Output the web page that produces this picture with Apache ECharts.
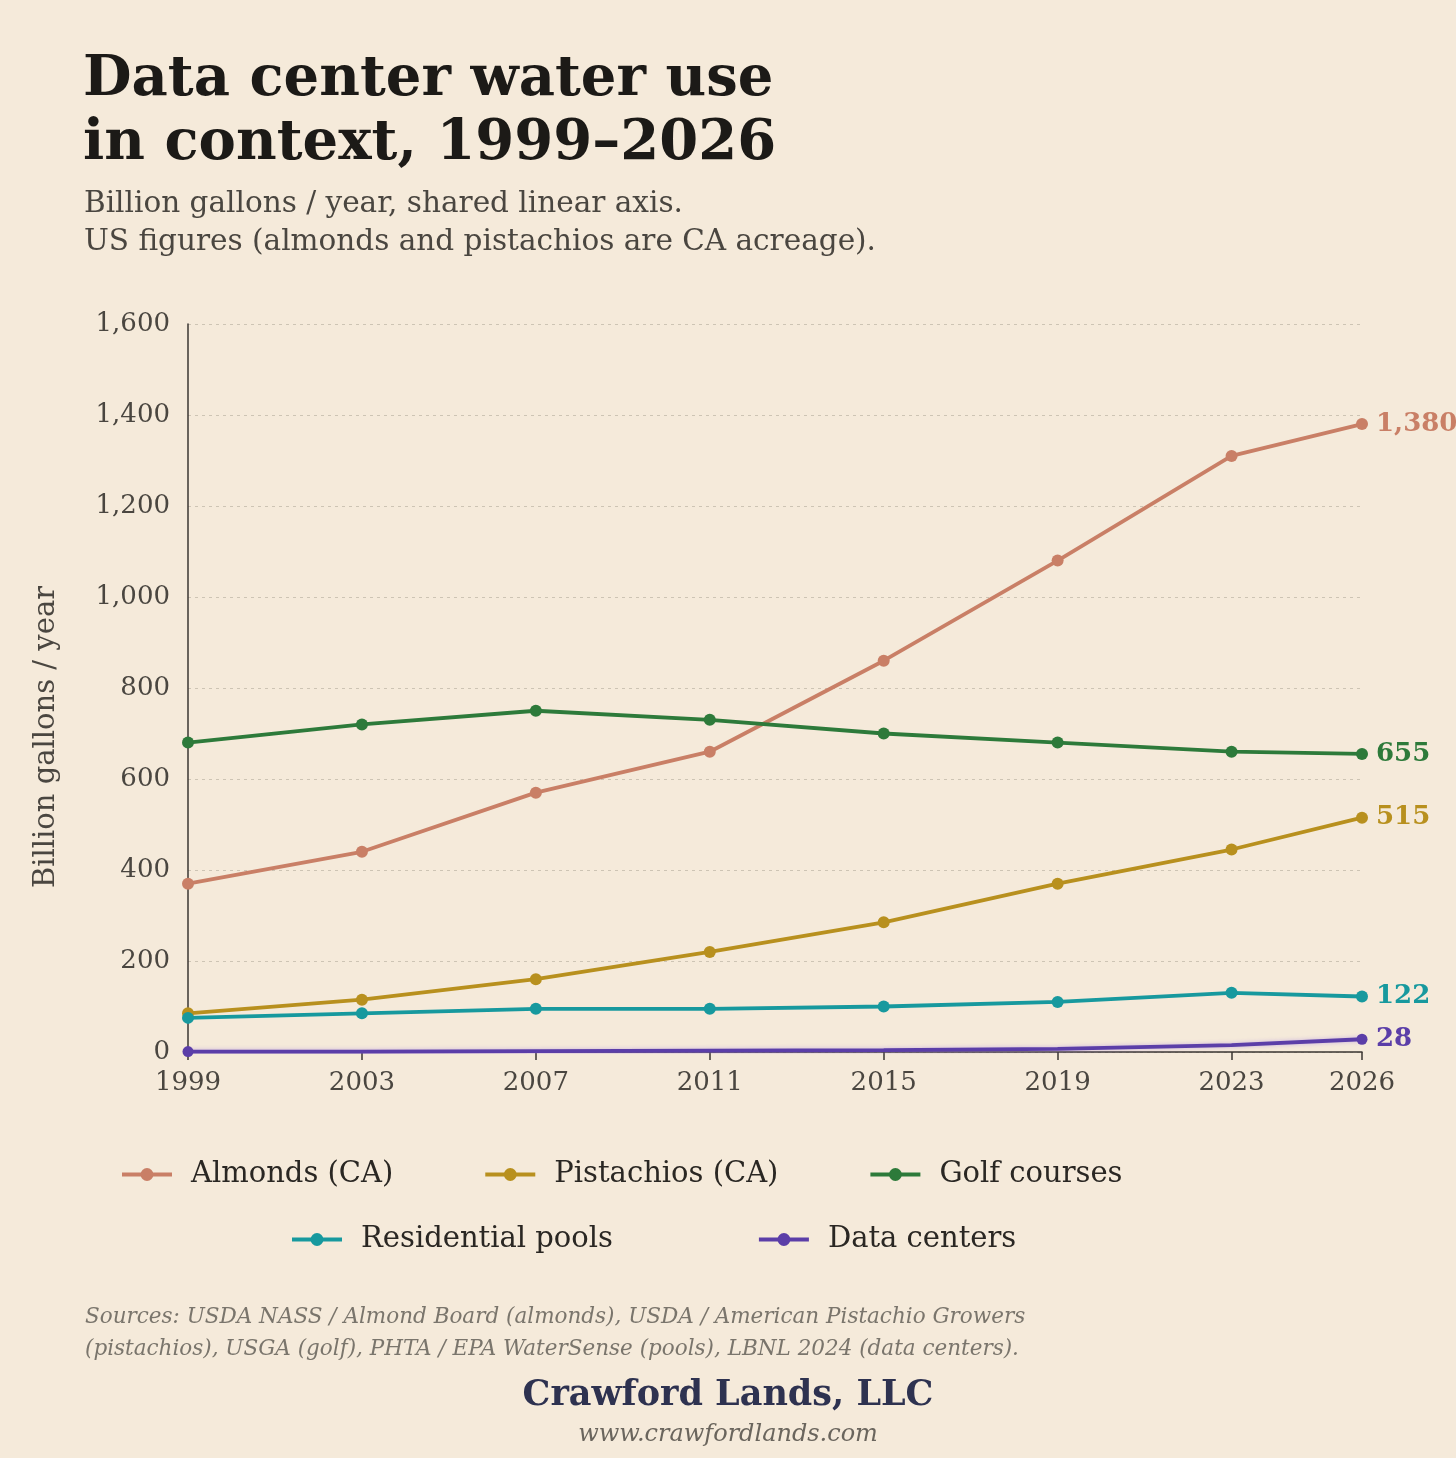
<!DOCTYPE html>
<html>
<head>
<meta charset="utf-8">
<script src="https://cdn.jsdelivr.net/npm/echarts@6/dist/echarts.min.js"></script>
<style>
html,body{margin:0;padding:0;background:#f5eada;}
#c{width:1456px;height:1458px;}
</style>
</head>
<body>
<div id="c"></div>
<script>
const years = [1999, 2003, 2007, 2011, 2015, 2019, 2023, 2026];
const almonds = [370, 440, 570, 660, 860, 1080, 1310, 1380];
const pistachios = [85, 115, 160, 220, 285, 370, 445, 515];
const golf = [680, 720, 750, 730, 700, 680, 660, 655];
const pools = [75, 85, 95, 95, 100, 110, 130, 122];
const dataCenters = [1, 1, 2, 3, 4, 7, 15, 28];
const seriesNames = ['Almonds (CA)', 'Pistachios (CA)', 'Golf courses', 'Residential pools', 'Data centers'];
const colors = ['#c97f66', '#b8901e', '#2d7a3a', '#17999e', '#5b3ea8'];

const FONT = 'DejaVu Serif';
const fmt = v => Number(v).toLocaleString('en-US');

function mk(name, vals, color, endOnly) {
  return {
    name: name,
    type: 'line',
    data: years.map((y, i) => {
      const d = { value: [y, vals[i]] };
      if (endOnly && i !== 0 && i !== years.length - 1) d.symbol = 'none';
      return d;
    }),
    color: color,
    symbol: 'circle',
    symbolSize: endOnly ? 11 : 12,
    lineStyle: endOnly
      ? { width: 3.8, color: color, shadowColor: 'rgba(150,110,230,0.45)', shadowBlur: 4 }
      : { width: 3.8, color: color },
    itemStyle: { color: color },
    endLabel: {
      show: true,
      formatter: p => fmt(p.value[1]),
      color: color,
      fontFamily: FONT,
      fontWeight: 'bold',
      fontSize: 26,
      distance: 14
    },
    emphasis: { disabled: true },
    animation: false
  };
}

const legendText = { fontFamily: FONT, fontSize: 29, color: '#2a2723', padding: [0, 0, 0, 14] };

const chart = echarts.init(document.getElementById('c'));
chart.setOption({
  backgroundColor: '#f5eada',
  animation: false,
  title: [
    {
      text: 'Data center water use\nin context, 1999–2026',
      left: 78, top: 43,
      textStyle: { fontFamily: FONT, fontWeight: 'bold', fontSize: 56, lineHeight: 64, color: '#1c1a17' }
    },
    {
      text: 'Billion gallons / year, shared linear axis.\nUS figures (almonds and pistachios are CA acreage).',
      left: 79, top: 180,
      textStyle: { fontFamily: FONT, fontWeight: 'normal', fontSize: 29.5, lineHeight: 38, color: '#4a4640' }
    },
    {
      text: 'Sources: USDA NASS / Almond Board (almonds), USDA / American Pistachio Growers\n(pistachios), USGA (golf), PHTA / EPA WaterSense (pools), LBNL 2024 (data centers).',
      left: 80, top: 1296,
      textStyle: { fontFamily: FONT, fontStyle: 'italic', fontWeight: 'normal', fontSize: 21.5, lineHeight: 32, color: '#7a756c' }
    },
    {
      text: 'Crawford Lands, LLC',
      left: 'center', top: 1373,
      textStyle: { fontFamily: FONT, fontWeight: 'bold', fontSize: 35, color: '#2e3250' }
    },
    {
      text: 'www.crawfordlands.com',
      left: 'center', top: 1418,
      textStyle: { fontFamily: FONT, fontStyle: 'italic', fontWeight: 'normal', fontSize: 24, color: '#6a655d' }
    }
  ],
  legend: [
    {
      data: seriesNames.slice(0, 3),
      left: 115, top: 1155,
      itemWidth: 50, itemHeight: 16, itemGap: 90,
      lineStyle: { width: 4 },
      textStyle: legendText,
      selectedMode: false
    },
    {
      data: seriesNames.slice(3),
      left: 285, top: 1220,
      itemWidth: 50, itemHeight: 16, itemGap: 144,
      lineStyle: { width: 4 },
      textStyle: legendText,
      selectedMode: false
    }
  ],
  grid: { left: 188, right: 94, top: 324, bottom: 406, containLabel: false },
  xAxis: {
    type: 'value',
    min: 1999, max: 2026, interval: 4,
    axisLine: { show: true, lineStyle: { color: '#3a3632', width: 1.5 } },
    axisTick: { show: true, length: 8, lineStyle: { color: '#3a3632', width: 1.5 } },
    axisLabel: { formatter: v => String(v), fontFamily: FONT, fontSize: 26, color: '#4a4640', margin: 18, showMaxLabel: true },
    splitLine: { show: false }
  },
  yAxis: {
    type: 'value',
    min: 0, max: 1600, interval: 200,
    axisLine: { show: true, lineStyle: { color: '#3a3632', width: 1.5 } },
    axisTick: { show: false },
    axisLabel: { formatter: v => fmt(v), fontFamily: FONT, fontSize: 26, color: '#4a4640', margin: 18 },
    splitLine: { show: true, lineStyle: { color: '#cdc4b4', type: [3, 4], width: 1.2 } }
  },
  graphic: [
    {
      type: 'text',
      x: 46, y: 737,
      rotation: Math.PI / 2,
      style: { text: 'Billion gallons / year', fontFamily: FONT, fontSize: 29, fill: '#4a4640', align: 'center', verticalAlign: 'middle' }
    }
  ],
  series: [
    mk(seriesNames[0], almonds, colors[0]),
    mk(seriesNames[1], pistachios, colors[1]),
    mk(seriesNames[2], golf, colors[2]),
    mk(seriesNames[3], pools, colors[3]),
    mk(seriesNames[4], dataCenters, colors[4], true)
  ]
});
</script>
</body>
</html>
